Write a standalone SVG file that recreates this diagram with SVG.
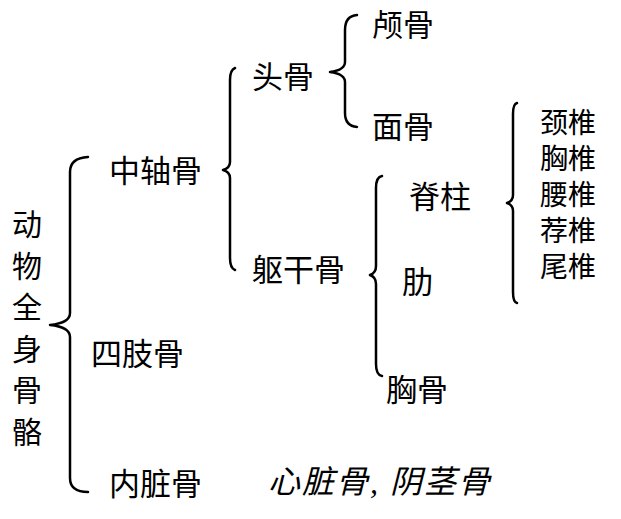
<svg xmlns="http://www.w3.org/2000/svg" width="621" height="519" viewBox="0 0 621 519">
<style>
text{font-family:"Liberation Serif","Noto Sans CJK SC",serif;fill:#000;}
.l{font-size:31px;}
.s{font-size:28px;}
.v{font-size:30px;text-anchor:middle;}
.it{font-size:32px;font-style:italic;letter-spacing:2px;}
.br{fill:none;stroke:#000;stroke-width:2.5;stroke-linecap:round;stroke-linejoin:round;}
</style>
<rect width="621" height="519" fill="#fff"/>
<g id="connectors">
<path class="br" d="M88,157 Q70,158 70,172 L70,313 Q70,323 50,325 Q70,327 70,337 L70,478 Q70,492 88,492"/>
<path class="br" d="M235,68 Q230,70 230,80 L230,162 Q230,168 223,170 Q230,172 230,178 L230,258 Q230,268 235,270"/>
<path class="br" d="M357,15 Q345,16 345,30 L345,62 Q345,70 330,72 Q345,74 345,82 L345,113 Q345,126 357,127"/>
<path class="br" d="M382,176 Q376,177 376,188 L376,266 Q376,273 370,275 Q376,277 376,284 L376,364 Q376,375 382,376"/>
<path class="br" d="M517,103 Q513,104 513,114 L513,195 Q513,201 507,203 Q513,205 513,211 L513,292 Q513,302 517,303"/>
</g>
<g id="root"><text class="v" x="27" y="235">动</text><text class="v" x="27" y="276.5">物</text><text class="v" x="27" y="318">全</text><text class="v" x="27" y="359.5">身</text><text class="v" x="27" y="401">骨</text><text class="v" x="27" y="442.5">骼</text></g>
<g id="zhongzhougu"><text class="l" x="109" y="182">中轴骨</text></g>
<g id="sizhigu"><text class="l" x="91" y="365">四肢骨</text></g>
<g id="neizanggu"><text class="l" x="109" y="495">内脏骨</text></g>
<g id="neizang-note"><text class="it" x="268" y="493">心脏骨, 阴茎骨</text></g>
<g id="tougu"><text class="l" x="252" y="88">头骨</text></g>
<g id="qugangu"><text class="l" x="252" y="281">躯干骨</text></g>
<g id="lugu"><text class="l" x="372" y="36">颅骨</text></g>
<g id="miangu"><text class="l" x="372" y="138">面骨</text></g>
<g id="jizhu"><text class="l" x="409" y="208">脊柱</text></g>
<g id="lei"><text class="l" x="402" y="293">肋</text></g>
<g id="xionggu"><text class="l" x="386" y="401">胸骨</text></g>
<g id="vertebrae"><text class="s" x="540" y="133">颈椎</text><text class="s" x="540" y="169">胸椎</text><text class="s" x="540" y="205">腰椎</text><text class="s" x="540" y="241">荐椎</text><text class="s" x="540" y="277">尾椎</text></g>
</svg>
